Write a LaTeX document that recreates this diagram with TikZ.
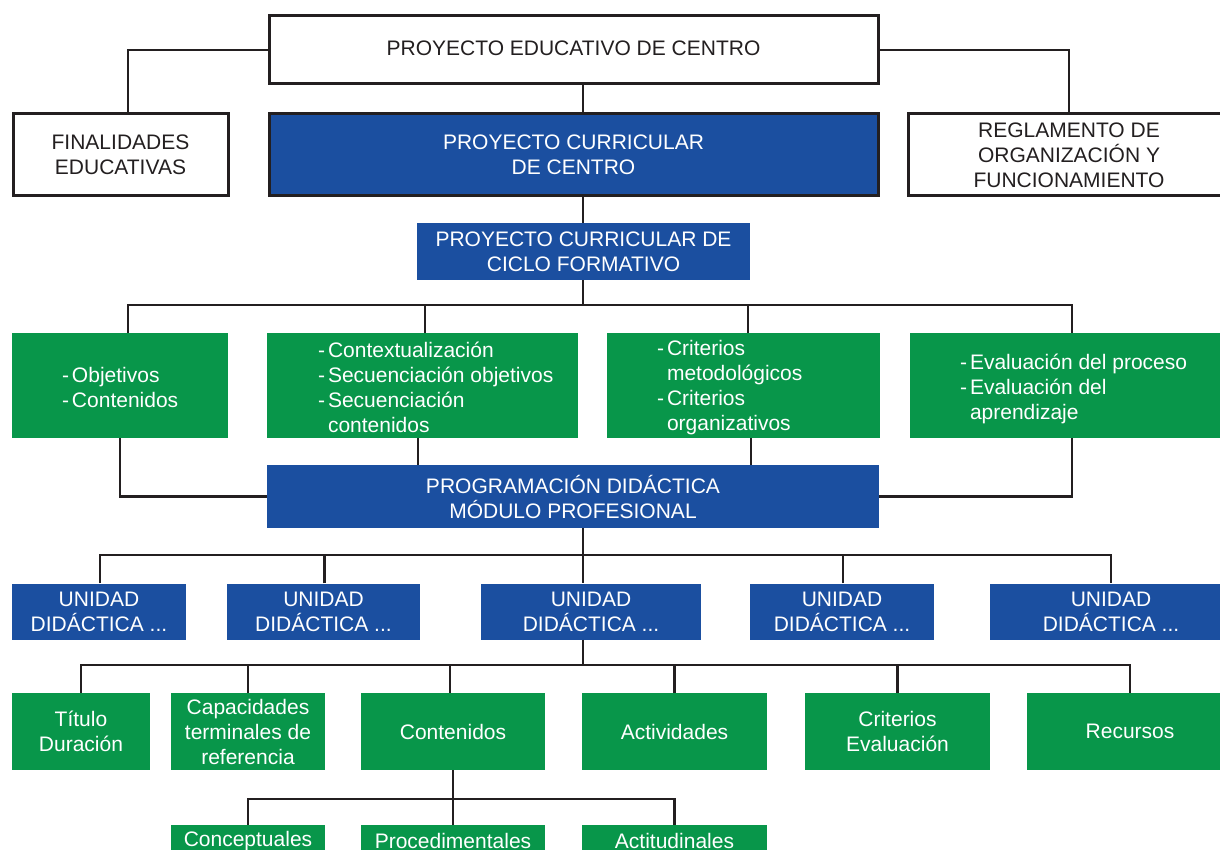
\documentclass[tikz,border=0pt]{standalone}
\usepackage{fontspec}
\setmainfont{Liberation Sans}
\usepackage{xcolor}
\usepackage{tikz}
\definecolor{azulpc}{RGB}{27,79,160}
\definecolor{verdepc}{RGB}{8,150,74}
\definecolor{negrolin}{RGB}{35,31,32}
\newcommand{\guion}{\makebox[10pt][l]{-}}
\newcommand{\sangria}{\hspace*{10pt}}
\tikzset{
  caja/.style       = {draw=negrolin, line width=3pt, fill=white, text=negrolin, align=center, inner sep=0pt},
  cajaazul/.style   = {fill=azulpc, text=white, align=center, inner sep=0pt},
  cajaverde/.style  = {fill=verdepc, text=white, align=center, inner sep=0pt},
  listaverde/.style = {text=white, align=left, inner sep=0pt, anchor=west},
  conector/.style   = {draw=negrolin, line width=2.5pt}
}

\begin{document}
\begin{tikzpicture}[x=1pt, y=-1pt, font=\fontsize{21}{25}\selectfont]
  \useasboundingbox (0,0) rectangle (1220,850);
  \clip (0,0) rectangle (1220,850);
  \coordinate (eje) at (583,0);
  \node[caja, minimum width=609pt, minimum height=68pt] (pec) at (573.5,50) {\raisebox{3pt}{PROYECTO EDUCATIVO DE CENTRO}};
  \node[caja, minimum width=215pt, minimum height=82pt] (fin) at (120.5,155) {FINALIDADES\\EDUCATIVAS};
  \node[caja, fill=azulpc, text=white, minimum width=609pt, minimum height=82pt] (pcc) at (573.5,155) {PROYECTO CURRICULAR\\DE CENTRO};
  \node[caja, minimum width=322pt, minimum height=82pt] (rof) at (1069,155) {REGLAMENTO DE\\ORGANIZACIÓN Y\\FUNCIONAMIENTO};
  \node[cajaazul, minimum width=333pt, minimum height=57pt] (pccf) at (583.5,251.5) {PROYECTO CURRICULAR DE\\CICLO FORMATIVO};
  \draw[conector] (pec.west) -| ([xshift=7.5pt]fin.north);
  \draw[conector] (pec.east) -| (rof.north);
  \draw[conector] (eje |- pec.south) -- (eje |- pcc.north);
  \draw[conector] (eje |- pcc.south) -- (eje |- pccf.north);

  \node[cajaverde, minimum width=216pt, minimum height=105pt] (obj) at (120,385.5) {};
  \node[cajaverde, minimum width=311pt, minimum height=105pt] (ctx) at (422.5,385.5) {};
  \node[cajaverde, minimum width=273pt, minimum height=105pt] (crit) at (743.5,385.5) {};
  \node[cajaverde, minimum width=312pt, minimum height=105pt] (eval) at (1066,385.5) {};
  \node[listaverde] (obj-t) at ([xshift=50pt, yshift=-2pt]obj.west) {\guion Objetivos\\\guion Contenidos};
  \node[listaverde] (ctx-t) at ([xshift=51pt, yshift=-2pt]ctx.west)
    {\guion Contextualización\\\guion Secuenciación objetivos\\\guion Secuenciación\\\sangria contenidos};
  \node[listaverde] (crit-t) at ([xshift=50pt, yshift=-2pt]crit.west)
    {\guion Criterios\\\sangria metodológicos\\\guion Criterios\\\sangria organizativos};
  \node[listaverde] (eval-t) at ([xshift=50pt, yshift=-3pt]eval.west)
    {\guion Evaluación del proceso\\\guion Evaluación del\\\sangria aprendizaje};
  \coordinate (bus1) at (583,305);
  \draw[conector] (eje |- pccf.south) -- (bus1);
  \draw[conector] ([xshift=8pt]obj.north) |- ([xshift=6pt]eval.north |- bus1) -- ([xshift=6pt]eval.north);
  \draw[conector] ([xshift=2.5pt]ctx.north) -- ([xshift=2.5pt]ctx.north |- bus1);
  \draw[conector] ([xshift=4.5pt]crit.north) -- ([xshift=4.5pt]crit.north |- bus1);

  \node[cajaazul, minimum width=612pt, minimum height=63pt] (prog) at (573,496.5) {PROGRAMACIÓN DIDÁCTICA\\MÓDULO PROFESIONAL};
  \draw[conector] (obj.south) |- (prog.west);
  \draw[conector] ([xshift=6pt]eval.south) |- (prog.east);
  \draw[conector] ([xshift=-4.5pt]ctx.south) -- ([xshift=-4.5pt]ctx.south |- prog.north);
  \draw[conector] ([xshift=7.5pt]crit.south) -- ([xshift=7.5pt]crit.south |- prog.north);

  \foreach \nom/\cx/\an in {ud1/99/174, ud2/323.5/193, ud3/591/220, ud4/842/184, ud5/1111/242}
    \node[cajaazul, minimum width=\an pt, minimum height=56pt] (\nom) at (\cx,611.5) {UNIDAD\\DIDÁCTICA ...};
  \coordinate (bus2) at (583,555);
  \draw[conector] (eje |- prog.south) -- (eje |- ud3.north);
  \draw[conector] ([xshift=1pt]ud1.north) |- (ud5.north |- bus2) -- (ud5.north);
  \foreach \nom in {ud2, ud4}
    \draw[conector] ([xshift=1pt]\nom.north) -- ([xshift=1pt]\nom.north |- bus2);

  \node[cajaverde, minimum width=138pt, minimum height=77pt] (tit) at (81,731.5) {Título\\Duración};
  \node[cajaverde, minimum width=154pt, minimum height=77pt] (cap) at (248,731.5) {Capacidades\\terminales de\\referencia};
  \node[cajaverde, minimum width=184pt, minimum height=77pt] (cont) at (453,731.5) {Contenidos};
  \node[cajaverde, minimum width=185pt, minimum height=77pt] (act) at (674.5,731.5) {Actividades};
  \node[cajaverde, minimum width=185pt, minimum height=77pt] (ceval) at (897.5,731.5) {Criterios\\Evaluación};
  \node[cajaverde, minimum width=206pt, minimum height=77pt] (rec) at (1130,731.5) {Recursos};
  \coordinate (bus3) at (583,665);
  \draw[conector] (eje |- ud3.south) -- (bus3);
  \draw[conector] (tit.north) |- (rec.north |- bus3) -- (rec.north);
  \foreach \nom in {cap, act, ceval}
    \draw[conector] (\nom.north) -- (\nom.north |- bus3);
  \draw[conector] ([xshift=-3pt]cont.north) -- ([xshift=-3pt]cont.north |- bus3);

  \node[cajaverde, minimum width=154pt, minimum height=32pt] (conc) at (248,841) {Conceptuales};
  \node[cajaverde, minimum width=184pt, minimum height=32pt] (proc) at (453,841) {Procedimentales};
  \node[cajaverde, minimum width=185pt, minimum height=32pt] (acti) at (674.5,841) {Actitudinales};
  \coordinate (bus4) at (453,799);
  \draw[conector] (cont.south) -- (proc.north);
  \draw[conector] (conc.north) |- (acti.north |- bus4) -- (acti.north);
\end{tikzpicture}
\end{document}
